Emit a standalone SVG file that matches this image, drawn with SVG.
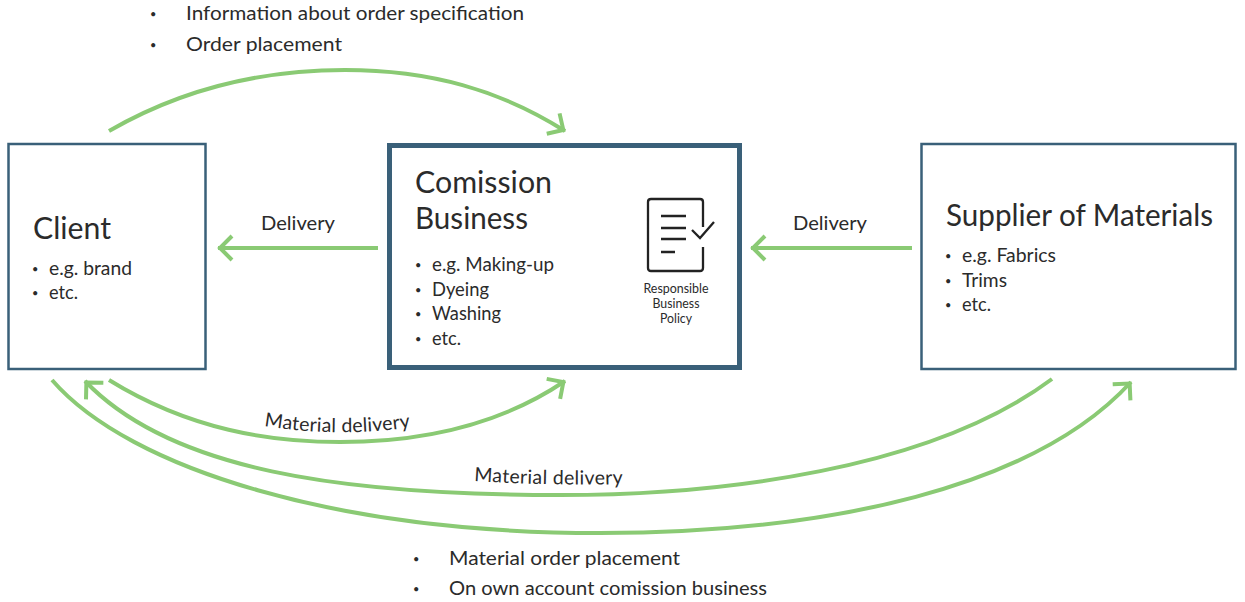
<svg xmlns="http://www.w3.org/2000/svg" width="1245" height="602" viewBox="0 0 1245 602">
<style>
text{font-family:"Lato","Noto Sans",sans-serif;fill:#2b2b2b;transform:translate(0,1px)}
.t{font-size:30px}.b{font-size:19.5px}.c{font-size:12.5px}.d{font-size:11px}
.box{fill:#fff;stroke:#3a6079;stroke-width:2.5}
.a{fill:none;stroke:#8aca74;stroke-width:4}
</style>
<defs>
<marker id="m" markerUnits="userSpaceOnUse" markerWidth="30" markerHeight="30" refX="17" refY="15" orient="auto"><path d="M3 3L15 15L3 27" fill="none" stroke="#8aca74" stroke-width="4"/></marker>
<path id="p1" d="M264 425Q338 437 412 426"/>
<path id="p2" d="M474 480Q548 485 624 483"/>
</defs>
<rect width="1245" height="602" fill="#fff"/>
<g id="connectors">
<path class="a" marker-end="url(#m)" d="M109 131C180 90 260 70 345 70C430 70 500 90 565 131"/>
<path class="a" marker-end="url(#m)" d="M378 248H218"/>
<path class="a" marker-end="url(#m)" d="M912 248H751"/>
<path class="a" marker-end="url(#m)" d="M109 380C190 430 270 442 340 442C420 442 500 425 565 381"/>
<path class="a" marker-end="url(#m)" d="M1052 379C930 470 720 495 560 495C340 495 170 470 85 381"/>
<path class="a" marker-end="url(#m)" d="M52 380C130 470 340 533 600 533C830 533 1035 487 1131 382"/>
</g>
<g id="client"><rect class="box" x="8.500" y="144" width="197" height="225"/>
<text class="t" x="33" y="238" textLength="78" lengthAdjust="spacingAndGlyphs">Client</text>
<text class="d" x="32" y="272">•</text><text class="b" x="49" y="274" textLength="83" lengthAdjust="spacingAndGlyphs">e.g. brand</text>
<text class="d" x="32" y="296">•</text><text class="b" x="49" y="298" textLength="29" lengthAdjust="spacingAndGlyphs">etc.</text></g>
<g id="commission"><rect class="box" style="stroke-width:5" x="389.500" y="145.500" width="350" height="222"/>
<text class="t" x="415" y="192" textLength="137" lengthAdjust="spacingAndGlyphs">Comission</text>
<text class="t" x="415" y="228" textLength="113" lengthAdjust="spacingAndGlyphs">Business</text>
<text class="d" x="415" y="268">•</text><text class="b" x="432" y="270" textLength="122" lengthAdjust="spacingAndGlyphs">e.g. Making-up</text>
<text class="d" x="415" y="293">•</text><text class="b" x="432" y="295" textLength="57" lengthAdjust="spacingAndGlyphs">Dyeing</text>
<text class="d" x="415" y="317">•</text><text class="b" x="432" y="319" textLength="69" lengthAdjust="spacingAndGlyphs">Washing</text>
<text class="d" x="415" y="342">•</text><text class="b" x="432" y="344" textLength="29" lengthAdjust="spacingAndGlyphs">etc.</text>
<path d="M703 227V202Q703 199 700 199H651Q648 199 648 202V268Q648 271 651 271H700Q703 271 703 268V247M661 216H686M661 228H686M661 239H686M661 252H675M692 230L700 238L714 222" fill="none" stroke="#222" stroke-width="2.300"/>
<g text-anchor="middle"><text class="c" x="676" y="292" textLength="65" lengthAdjust="spacingAndGlyphs">Responsible</text><text class="c" x="676" y="307" textLength="47" lengthAdjust="spacingAndGlyphs">Business</text><text class="c" x="676" y="322" textLength="32" lengthAdjust="spacingAndGlyphs">Policy</text></g></g>
<g id="supplier"><rect class="box" x="921.500" y="144" width="314" height="225"/>
<text class="t" x="946" y="225" textLength="267" lengthAdjust="spacingAndGlyphs">Supplier of Materials</text>
<text class="d" x="945" y="259">•</text><text class="b" x="962" y="261" textLength="94" lengthAdjust="spacingAndGlyphs">e.g. Fabrics</text>
<text class="d" x="945" y="284">•</text><text class="b" x="962" y="286" textLength="45" lengthAdjust="spacingAndGlyphs">Trims</text>
<text class="d" x="945" y="308">•</text><text class="b" x="962" y="310" textLength="29" lengthAdjust="spacingAndGlyphs">etc.</text></g>
<g id="labels">
<text class="d" x="150" y="17">•</text><text class="b" x="186" y="19" textLength="338" lengthAdjust="spacingAndGlyphs">Information about order specification</text>
<text class="d" x="150" y="48">•</text><text class="b" x="186" y="50" textLength="156" lengthAdjust="spacingAndGlyphs">Order placement</text>
<text class="b" x="261" y="229" textLength="74" lengthAdjust="spacingAndGlyphs">Delivery</text>
<text class="b" x="793" y="229" textLength="74" lengthAdjust="spacingAndGlyphs">Delivery</text>
<text class="b"><textPath href="#p1" textLength="147" lengthAdjust="spacing">Material delivery</textPath></text>
<text class="b"><textPath href="#p2" textLength="149" lengthAdjust="spacing">Material delivery</textPath></text>
<text class="d" x="413" y="562">•</text><text class="b" x="449" y="564" textLength="231" lengthAdjust="spacingAndGlyphs">Material order placement</text>
<text class="d" x="413" y="592">•</text><text class="b" x="449" y="594" textLength="318" lengthAdjust="spacingAndGlyphs">On own account comission business</text>
</g></svg>
